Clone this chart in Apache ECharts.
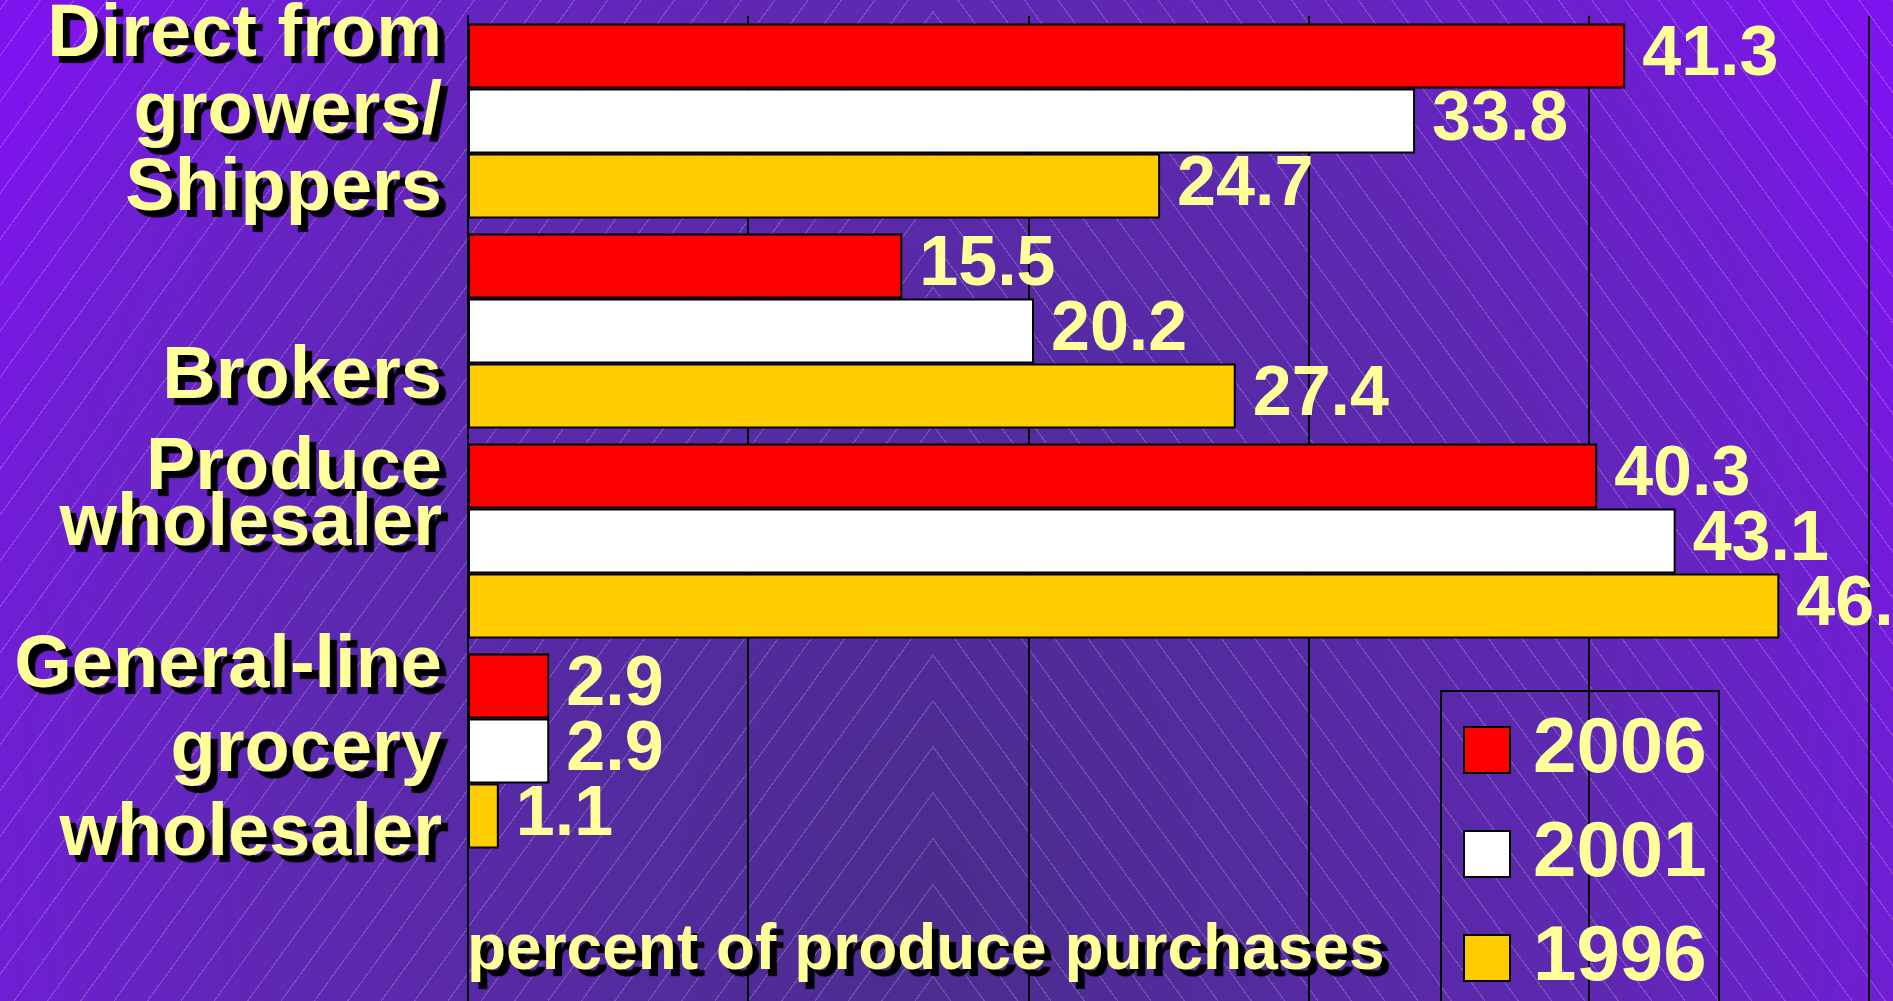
<!DOCTYPE html>
<html>
<head>
<meta charset="utf-8">
<script src="https://cdn.jsdelivr.net/npm/echarts@6/dist/echarts.min.js"></script>
<style>
  html, body { margin:0; padding:0; width:1893px; height:1001px; overflow:hidden; }
  body {
    position: relative;
    background: radial-gradient(ellipse 1100px 1500px at 940px 900px, #4A2D8D 0%, #5E28B2 60%, #6E1FD2 85%, #7F13EF 100%);
  }
  .hatch {
    position:absolute; top:0; height:1001px; width:960px;
    background: repeating-linear-gradient(126deg, rgba(255,255,255,0.2) 0px, rgba(255,255,255,0.2) 1px, rgba(255,255,255,0) 1.3px, rgba(255,255,255,0) 27px);
  }
  #hl { left:-27px; }
  #hr { left:933px; transform: scaleX(-1); }
  #chart { position:absolute; left:0; top:0; width:1893px; height:1001px; }
</style>
</head>
<body>
<div class="hatch" id="hl"></div>
<div class="hatch" id="hr"></div>
<div id="chart"></div>
<script>
// ---- data ----
const categories = ['Direct from\ngrowers/\nShippers', 'Brokers', 'Produce\nwholesaler', 'General-line\ngrocery\nwholesaler'];
const seriesNames = ['2006', '2001', '1996'];
const values2006 = [41.3, 15.5, 40.3, 2.9];
const values2001 = [33.8, 20.2, 43.1, 2.9];
const values1996 = [24.7, 27.4, 46.8, 1.1];
const axisTitle = 'percent of produce purchases';

// ---- styling (kept apart from data) ----
const labelYellow = '#FFFF99';
const FONT = 'Liberation Sans, Arial, sans-serif';
const barColors = ['#FF0000', '#FFFFFF', '#FFCC00'];
const catLineHeights = [77, 77, 56, 84];
const catShift = [-8, 47, -44, 0];   // vertical nudge of each category label block

const shadow = { textShadowColor: '#000', textShadowOffsetX: 7, textShadowOffsetY: 7, textShadowBlur: 1 };

const rich = {};
catLineHeights.forEach((lh, i) => {
  rich['m' + i] = Object.assign({ color: labelYellow, fontFamily: FONT, fontWeight: 'bold', fontSize: 74, lineHeight: lh, align: 'right' }, shadow);
  rich['s' + i] = { fontSize: 1, lineHeight: Math.abs(catShift[i]) * 2, color: 'transparent' };
});

function catFormatter(value, index) {
  if (!value) return '';
  const lines = value.split('\n').map(ln => '{m' + index + '|' + ln + '}');
  const s = catShift[index];
  if (s > 0) lines.unshift('{s' + index + '| }');
  if (s < 0) lines.push('{s' + index + '| }');
  return lines.join('\n');
}

const chart = echarts.init(document.getElementById('chart'), null, { renderer: 'canvas' });

function barSeries(name, data, color) {
  return {
    name: name,
    type: 'bar',
    data: data,
    barWidth: 65,
    barGap: '0%',
    itemStyle: { color: color, borderColor: '#000', borderWidth: 2 },
    label: {
      show: true,
      position: 'right',
      distance: 17,
      color: labelYellow,
      fontFamily: FONT,
      fontWeight: 'bold',
      fontSize: 70
    }
  };
}

const option = {
  animation: false,
  backgroundColor: 'transparent',
  title: {
    text: axisTitle,
    left: 467,
    top: 919,
    padding: 0,
    textStyle: Object.assign({ color: labelYellow, fontFamily: FONT, fontWeight: 'bold', fontSize: 64 }, shadow)
  },
  graphic: [{
    type: 'rect',
    silent: true,
    z: 1,
    shape: { x: 1441, y: 691, width: 278, height: 400 },
    style: { fill: 'none', stroke: '#000', lineWidth: 2 }
  }],
  legend: {
    orient: 'vertical',
    left: 1441,
    top: 691,
    padding: [20, 17, 0, 22],
    itemWidth: 46,
    itemHeight: 46,
    itemGap: 26,
    icon: 'rect',
    borderWidth: 0,
    itemStyle: { borderColor: '#000', borderWidth: 2 },
    textStyle: {
      color: labelYellow,
      fontFamily: FONT,
      fontWeight: 'bold',
      fontSize: 78,
      lineHeight: 78,
      padding: [0, 0, 0, 18]
    },
    data: seriesNames
  },
  grid: { left: 468, top: 16, width: 1429, height: 1050, containLabel: false, outerBoundsMode: 'none' },
  xAxis: {
    type: 'value',
    min: 0,
    max: 51,
    interval: 10,
    axisLine: { show: false },
    axisTick: { show: false },
    axisLabel: { show: false },
    splitLine: { show: true, lineStyle: { color: '#000', width: 2 } }
  },
  yAxis: {
    type: 'category',
    inverse: true,
    data: categories.concat(['']),
    axisLine: { show: true, lineStyle: { color: '#000', width: 2 } },
    axisTick: { show: false },
    splitLine: { show: false },
    axisLabel: Object.assign({
      interval: 0,
      hideOverlap: false,
      margin: 26,
      color: labelYellow,
      fontFamily: FONT,
      fontWeight: 'bold',
      fontSize: 74,
      align: 'right',
      formatter: catFormatter,
      rich: rich
    }, shadow)
  },
  series: [
    barSeries(seriesNames[0], values2006, barColors[0]),
    barSeries(seriesNames[1], values2001, barColors[1]),
    barSeries(seriesNames[2], values1996, barColors[2])
  ]
};

chart.setOption(option);
</script>
</body>
</html>
